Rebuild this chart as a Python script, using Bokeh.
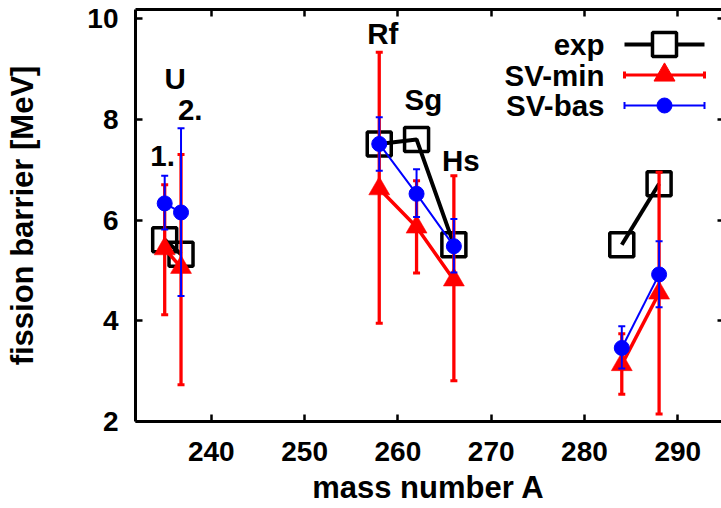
import math
from bokeh.plotting import figure
from bokeh.models import Range1d, LinearAxis, FixedTicker, CustomLabelingPolicy
from bokeh.embed import file_html
from bokeh.resources import INLINE
from bokeh.core.properties import value

# ---------------- data ----------------
mass = [235.0, 236.75, 258.0, 262.0, 266.0, 284.0, 288.0]
group = [0, 0, 1, 1, 1, 2, 2]
exp_b = [5.61, 5.32, 7.51, 7.60, 5.51, 5.51, 6.72]
svmin = [5.43, 5.06, 6.62, 5.86, 4.81, 3.13, 4.55]
svmin_hi = [6.70, 7.30, 9.33, 6.78, 6.88, 3.74, 6.95]
svmin_lo = [4.12, 2.73, 3.95, 4.95, 2.81, 2.54, 2.15]
svbas = [6.33, 6.15, 7.51, 6.52, 5.48, 3.46, 4.92]
svbas_hi = [6.88, 7.82, 8.04, 7.01, 6.02, 3.89, 5.58]
svbas_lo = [5.81, 4.49, 6.98, 6.06, 4.96, 3.05, 4.27]
x_ticks = [240, 250, 260, 270, 280, 290]
y_ticks = [2, 4, 6, 8, 10]
series_names = ["exp", "SV-min", "SV-bas"]
annot_text = ["U", "1.", "2.", "Rf", "Sg", "Hs"]
annot_x = [236.13, 234.77, 237.74, 258.38, 262.73, 266.75]
annot_y = [8.80, 7.28, 8.18, 9.70, 8.40, 7.18]

FONT = "Liberation Sans"
FS_TICK = "28px"
FS_AXIS = "31px"
FS_TEXT = "29.5px"
RED = "#ff0000"
BLUE = "#0000ff"

p = figure(width=721, height=508,
           x_range=Range1d(231.87, 294.69), y_range=Range1d(2, 10.179),
           output_backend="svg", toolbar_location=None,
           min_border_left=135, min_border_right=0,
           min_border_top=9, min_border_bottom=87)
p.outline_line_color = None
p.grid.visible = False
p.background_fill_color = "white"
p.border_fill_color = "white"

p.add_layout(LinearAxis(), "above")
p.add_layout(LinearAxis(), "right")

for ax in p.xaxis:
    ax.ticker = FixedTicker(ticks=x_ticks)
for ax in p.yaxis:
    ax.ticker = FixedTicker(ticks=y_ticks)

for ax in p.axis:
    ax.axis_line_width = 3
    ax.axis_line_color = "black"
    ax.major_tick_in = 7
    ax.major_tick_out = 0
    ax.major_tick_line_width = 2.5
    ax.minor_tick_line_color = None
    ax.major_label_text_font = FONT
    ax.major_label_text_font_style = "bold"
    ax.major_label_text_font_size = FS_TICK
    ax.major_label_text_color = "black"
    ax.axis_label_text_font = FONT
    ax.axis_label_text_font_style = "bold"
    ax.axis_label_text_font_size = FS_AXIS
    ax.axis_label_text_color = "black"

bottom, top = p.below[0], p.above[0]
left, right = p.left[0], p.right[0]
bottom.axis_label = "mass number A"
bottom.major_label_standoff = 20
bottom.axis_label_standoff = 6
left.axis_label = "fission barrier [MeV]"
left.major_label_standoff = 17
left.axis_label_standoff = 44
for ax in (top, right):
    ax.major_label_text_font_size = "0px"
    ax.major_label_standoff = 0
    ax.major_label_policy = CustomLabelingPolicy(code="return []")
right.axis_line_color = None
right.major_tick_in = 4

# ---------------- series ----------------
def by_group(vals):
    out = {}
    for g, x, v in zip(group, mass, vals):
        out.setdefault(g, ([], []))
        out[g][0].append(x)
        out[g][1].append(v)
    return out.values()

for xs, ys in by_group(exp_b):
    p.line(xs, ys, line_color="black", line_width=4)
p.scatter(mass, exp_b, marker="square", size=24, fill_color=None,
          line_color="black", line_width=3.5)

# SV-min
p.segment(mass, svmin_lo, mass, svmin_hi, line_color=RED, line_width=3.3)
p.scatter(mass, svmin_lo, marker="dash", size=7, line_color=RED, line_width=3)
p.scatter(mass, svmin_hi, marker="dash", size=7, line_color=RED, line_width=3)
for xs, ys in by_group(svmin):
    p.line(xs, ys, line_color=RED, line_width=3.5)
p.scatter(mass, svmin, marker="triangle", size=21, fill_color=RED, line_color=RED, line_width=0.5)

# SV-bas
p.segment(mass, svbas_lo, mass, svbas_hi, line_color=BLUE, line_width=2)
p.scatter(mass, svbas_lo, marker="dash", size=7, line_color=BLUE, line_width=2)
p.scatter(mass, svbas_hi, marker="dash", size=7, line_color=BLUE, line_width=2)
for xs, ys in by_group(svbas):
    p.line(xs, ys, line_color=BLUE, line_width=2)
p.scatter(mass, svbas, marker="circle", size=15, fill_color=BLUE, line_color=BLUE)

# annotations
p.text(annot_x, annot_y, text=annot_text, text_font=value(FONT), text_font_style="bold",
       text_font_size=FS_TEXT, text_align="center", text_baseline="middle", text_color="black")

# ---------------- legend (frame pixel coordinates) ----------------
p.extra_x_ranges["lg"] = Range1d(0, 586)
p.extra_y_ranges["lg"] = Range1d(412, 0)
rows = [35, 65.5, 96]
tx, x0, x1, xm = 469, 489, 569, 529
p.text([tx] * 3, rows, text=series_names, text_font=value(FONT), text_font_style="bold",
       text_font_size=FS_TEXT, text_align="right", text_baseline="middle", text_color="black",
       x_range_name="lg", y_range_name="lg")
cols = ["black", RED, BLUE]
lws = [4, 3, 2]
for r, c, lw in zip(rows, cols, lws):
    p.segment([x0], [r], [x1], [r], line_color=c, line_width=lw,
              x_range_name="lg", y_range_name="lg")
p.scatter([xm], [rows[0]], marker="square", size=24, fill_color="white",
          line_color="black", line_width=3.5, x_range_name="lg", y_range_name="lg")
p.scatter([x0, x1], [rows[1]] * 2, marker="dash", angle=math.pi / 2, size=7,
          line_color=RED, line_width=3, x_range_name="lg", y_range_name="lg")
p.scatter([xm], [rows[1]], marker="triangle", size=21, fill_color=RED, line_color=RED,
          x_range_name="lg", y_range_name="lg")
p.scatter([x0, x1], [rows[2]] * 2, marker="dash", angle=math.pi / 2, size=7,
          line_color=BLUE, line_width=2, x_range_name="lg", y_range_name="lg")
p.scatter([xm], [rows[2]], marker="circle", size=15, fill_color=BLUE, line_color=BLUE,
          x_range_name="lg", y_range_name="lg")

open("out.html", "w").write(file_html(p, INLINE))
